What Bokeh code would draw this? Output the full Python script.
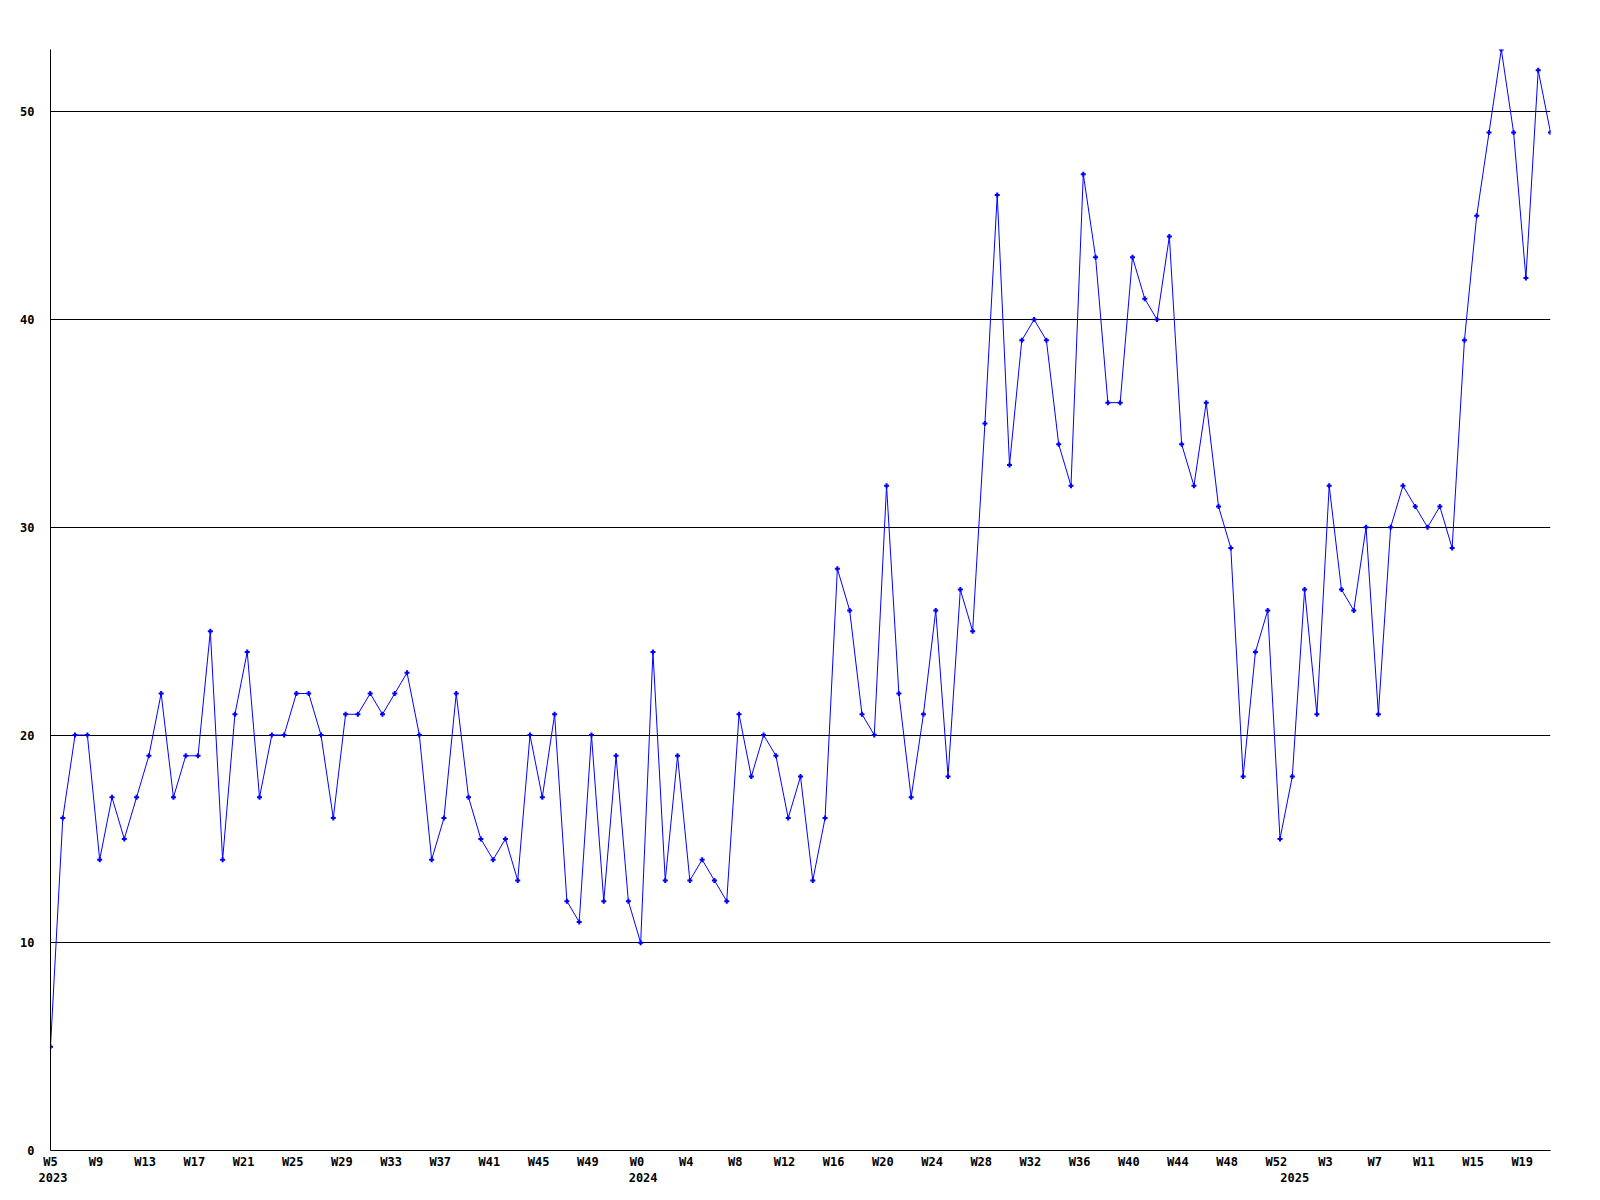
from bokeh.plotting import figure
from bokeh.models import FixedTicker, LinearAxis, Range1d, ColumnDataSource
from bokeh.embed import file_html
from bokeh.resources import INLINE

# Weeks covered (ISO-like week numbers per year)
weeks_2023 = list(range(5, 53))
weeks_2024 = list(range(0, 53))
weeks_2025 = list(range(0, 22))
year_names = ["2023", "2024", "2025"]

values = [
    5, 16, 20, 20, 14, 17, 15, 17, 19, 22,
    17, 19, 19, 25, 14, 21, 24, 17, 20, 20,
    22, 22, 20, 16, 21, 21, 22, 21, 22, 23,
    20, 14, 16, 22, 17, 15, 14, 15, 13, 20,
    17, 21, 12, 11, 20, 12, 19, 12, 10, 24,
    13, 19, 13, 14, 13, 12, 21, 18, 20, 19,
    16, 18, 13, 16, 28, 26, 21, 20, 32, 22,
    17, 21, 26, 18, 27, 25, 35, 46, 33, 39,
    40, 39, 34, 32, 47, 43, 36, 36, 43, 41,
    40, 44, 34, 32, 36, 31, 29, 18, 24, 26,
    15, 18, 27, 21, 32, 27, 26, 30, 21, 30,
    32, 31, 30, 31, 29, 39, 45, 49, 53, 49,
    42, 52, 49,
]

y_ticks = [0, 10, 20, 30, 40, 50]

all_weeks = weeks_2023 + weeks_2024 + weeks_2025
x = list(range(len(values)))
week_labels = ["W%d" % w for w in all_weeks]
year_starts = [0, len(weeks_2023), len(weeks_2023) + len(weeks_2024)]

FONT = "DejaVu Sans Mono"
FSIZE = "12px"

p = figure(
    frame_width=1500, frame_height=1101,
    x_range=Range1d(0, len(values) - 1), y_range=Range1d(0, 53),
    output_backend="svg", toolbar_location=None,
    min_border_left=50, min_border_top=49, min_border_right=30, min_border_bottom=5,
    background_fill_color="white", border_fill_color="white",
)
p.outline_line_color = None

src = ColumnDataSource(dict(x=x, y=values))
p.line("x", "y", source=src, line_color="#0000ff", line_width=1)
p.scatter("x", "y", source=src, marker="cross", size=5, line_width=2, line_color="#0000ff")

p.xgrid.visible = False
p.ygrid.ticker = FixedTicker(ticks=y_ticks[1:])
p.ygrid.grid_line_color = "black"
p.ygrid.grid_line_width = 1

# x axis (week labels), label anchors nudged slightly left like the original
tick_idx = list(range(0, len(values), 4))
wk_pos = [i - 0.3 if i > 0 else 0 for i in tick_idx]
xa = p.xaxis[0]
xa.ticker = FixedTicker(ticks=wk_pos)
xa.major_label_overrides = {wk_pos[k]: week_labels[i] for k, i in enumerate(tick_idx)}
xa.major_tick_line_color = None
xa.minor_tick_line_color = None
xa.major_tick_out = 0
xa.major_label_standoff = 4
xa.axis_line_color = "black"
xa.major_label_text_font = FONT
xa.major_label_text_font_style = "bold"
xa.major_label_text_font_size = FSIZE
xa.major_label_text_color = "black"

# second x axis with year names
yr_pos = [s + 0.2 for s in year_starts]
ya2 = LinearAxis(ticker=FixedTicker(ticks=yr_pos))
ya2.major_label_overrides = {yr_pos[i]: year_names[i] for i in range(3)}
ya2.axis_line_color = None
ya2.major_tick_line_color = None
ya2.minor_tick_line_color = None
ya2.major_tick_out = 0
ya2.major_label_standoff = 1
ya2.major_label_text_font = FONT
ya2.major_label_text_font_style = "bold"
ya2.major_label_text_font_size = FSIZE
ya2.major_label_text_color = "black"
p.add_layout(ya2, "below")

# y axis
ya = p.yaxis[0]
ya.ticker = FixedTicker(ticks=y_ticks)
ya.major_tick_line_color = None
ya.minor_tick_line_color = None
ya.major_tick_out = 0
ya.major_label_standoff = 16
ya.axis_line_color = "black"
ya.major_label_text_font = FONT
ya.major_label_text_font_style = "bold"
ya.major_label_text_font_size = FSIZE
ya.major_label_text_color = "black"

open("out.html", "w").write(file_html(p, INLINE))
